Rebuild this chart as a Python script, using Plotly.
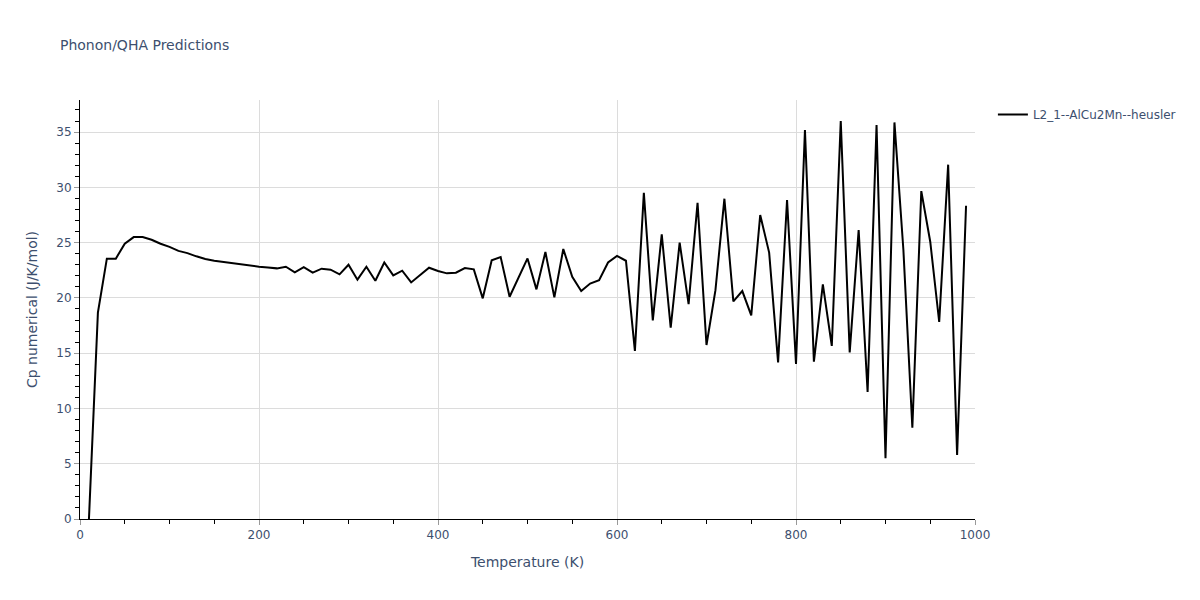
import plotly.graph_objects as go

temperature = list(range(10, 1000, 10))
cp = [
    0.0, 18.66, 23.55, 23.55, 24.9, 25.5, 25.5, 25.26, 24.9, 24.62,
    24.25, 24.05, 23.76, 23.52, 23.36, 23.24, 23.12, 23.0, 22.88, 22.82,
    22.74, 22.67, 22.82, 22.31, 22.79, 22.28, 22.64, 22.55, 22.13, 23.0,
    21.65, 22.82, 21.55, 23.2, 22.04, 22.46, 21.4, 22.07, 22.73, 22.43,
    22.22, 22.28, 22.7, 22.58, 19.96, 23.4, 23.7, 20.1, 21.8, 23.57,
    20.77, 24.15, 20.05, 24.42, 21.9, 20.62, 21.3, 21.6, 23.2, 23.8,
    23.36, 15.2, 29.5, 17.97, 25.75, 17.3, 25.0, 19.44, 28.6, 15.74,
    20.7, 28.97, 19.69, 20.62, 18.42, 27.5, 24.1, 14.17, 28.85, 14.02,
    35.18, 14.23, 21.22, 15.65, 36.0, 15.07, 26.14, 11.49, 35.63, 5.49,
    35.87, 24.33, 8.26, 29.66, 25.08, 17.82, 32.05, 5.79, 28.34,
]
series_name = "L2_1--AlCu2Mn--heusler"

text_color = "#3d4f6e"

fig = go.Figure()
fig.add_trace(go.Scatter(
    x=temperature, y=cp, mode="lines", name=series_name,
    line=dict(color="black", width=2),
))

axis_common = dict(
    showline=True, linecolor="black", linewidth=1,
    ticks="outside", tickcolor="#999", ticklen=5,
    showgrid=True, gridcolor="#dcdcdc", gridwidth=1,
    zeroline=False,
    tickfont=dict(color=text_color, size=12),
)

fig.update_layout(
    template="plotly_white",
    width=1200, height=600,
    margin=dict(l=72, r=233, t=92, b=89),
    title=dict(text="Phonon/QHA Predictions", x=0.0433, y=0.947,
               font=dict(size=14, color=text_color)),
    font=dict(family="Verdana, DejaVu Sans, sans-serif", color=text_color),
    showlegend=True,
    legend=dict(x=1.02, y=1.0, xanchor="left", yanchor="top",
                font=dict(size=12, color=text_color)),
    plot_bgcolor="white", paper_bgcolor="white",
)
fig.update_xaxes(
    title=dict(text="Temperature (K)", font=dict(size=14, color=text_color)),
    range=[0, 1000], dtick=200,
    minor=dict(dtick=50, ticks="outside", ticklen=4, tickcolor="black", showgrid=False),
    **axis_common,
)
fig.update_yaxes(
    title=dict(text="Cp numerical (J/K/mol)", font=dict(size=14, color=text_color)),
    range=[0, 37.9], dtick=5,
    minor=dict(dtick=1, ticks="outside", ticklen=4, tickcolor="black", showgrid=False),
    **axis_common,
)

fig.write_html("out.html")
